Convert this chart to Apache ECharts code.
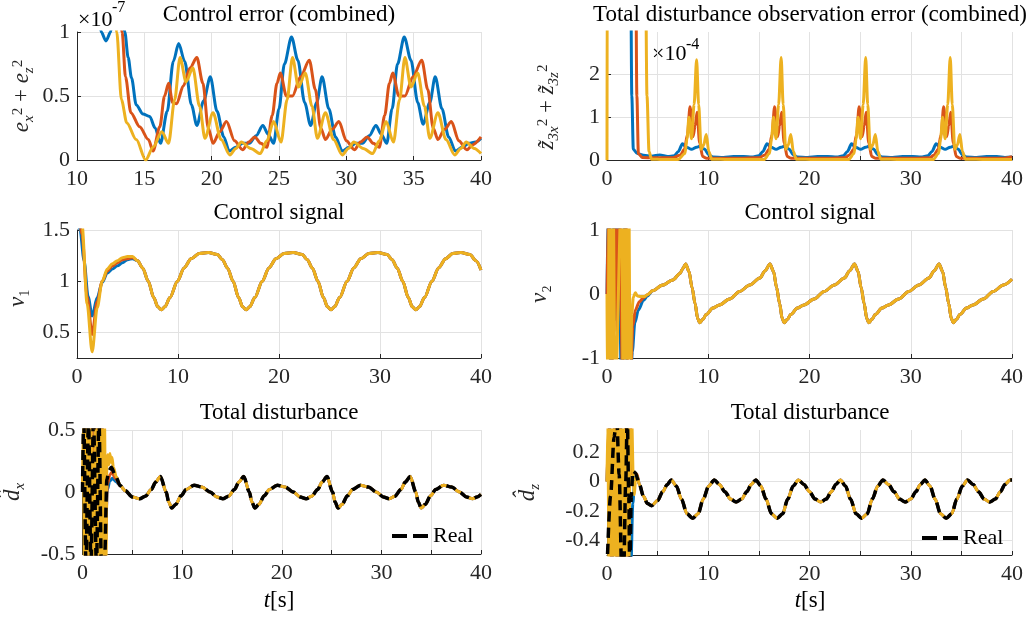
<!DOCTYPE html>
<html>
<head>
<meta charset="utf-8">
<title>Observer results</title>
<script src="https://cdn.jsdelivr.net/npm/echarts@6/dist/echarts.min.js"></script>
<style>
html, body { margin: 0; padding: 0; background: #fff; }
#chart { width: 1034px; height: 620px; }
</style>
</head>
<body>
<div id="chart"></div>
<script>
// tick values
var xTicksErr = [10, 15, 20, 25, 30, 35, 40];
var xTicks5 = [0, 5, 10, 15, 20, 25, 30, 35, 40];
var xTicks10 = [0, 10, 20, 30, 40];
var yTicksErr = [0, 0.5, 1];
var yTicksZ = [0, 1, 2];
var yTicksV1 = [0.5, 1, 1.5];
var yTicksV2 = [-1, 0, 1];
var yTicksDx = [-0.5, 0, 0.5];
var yTicksDz = [-0.4, -0.2, 0, 0.2];

// control error e_x^2 + e_z^2 (x 1e-7)
var errBlue = [[10,2.5],[11.4,1.4],[11.8,1.0],[12.15,0.93],[12.5,1.0],[12.9,1.5],[13.25,1.5],[13.55,1.0],[13.8,0.8],[14.05,0.64],[14.4,0.43],[14.9,0.36],[15.4,0.34],[15.8,0.25],[16.2,0.13],[16.7,0.38],[17.15,0.77],[17.55,0.91],[18.0,0.77],[18.5,0.43],[18.9,0.27],[19.4,0.46],[19.9,0.65],[20.4,0.38],[20.9,0.18],[21.3,0.07],[21.8,0.1],[22.3,0.13],[22.8,0.13],[23.3,0.19],[23.8,0.27],[24.2,0.2],[24.6,0.13],[25.0,0.4],[25.4,0.75],[25.93,0.96],[26.4,0.78],[26.9,0.45],[27.35,0.27],[27.8,0.45],[28.2,0.65],[28.7,0.4],[29.2,0.18],[29.7,0.07],[30.2,0.1],[30.7,0.13],[31.2,0.13],[31.7,0.19],[32.2,0.27],[32.6,0.2],[33.0,0.13],[33.4,0.4],[33.8,0.75],[34.3,0.96],[34.8,0.78],[35.3,0.45],[35.7,0.28],[36.2,0.45],[36.6,0.65],[37.1,0.4],[37.6,0.18],[38.1,0.07],[38.6,0.1],[39.1,0.13],[39.6,0.14],[40,0.17]];
var errOrange = [[10,2.5],[13.0,1.6],[13.35,1.0],[13.6,0.65],[14.0,0.37],[14.65,0.26],[15.3,0.16],[15.65,0.07],[16.15,0.26],[16.5,0.5],[16.8,0.6],[17.1,0.45],[17.4,0.44],[17.9,0.58],[18.4,0.72],[18.9,0.8],[19.35,0.6],[19.75,0.25],[20.1,0.13],[20.6,0.22],[21.1,0.3],[21.7,0.15],[22.3,0.08],[22.75,0.14],[23.2,0.18],[23.65,0.13],[24.1,0.1],[24.5,0.35],[24.85,0.6],[25.1,0.68],[25.55,0.5],[26.0,0.5],[26.6,0.65],[27.25,0.78],[27.7,0.55],[28.1,0.25],[28.45,0.16],[28.95,0.24],[29.45,0.3],[30.0,0.15],[30.6,0.08],[31.05,0.14],[31.55,0.18],[32.0,0.13],[32.45,0.1],[32.85,0.35],[33.2,0.6],[33.45,0.68],[33.9,0.5],[34.35,0.5],[34.95,0.65],[35.6,0.78],[36.05,0.55],[36.45,0.25],[36.8,0.16],[37.3,0.24],[37.8,0.3],[38.35,0.15],[38.95,0.08],[39.4,0.12],[40,0.18]];
var errYellow = [[10,2.5],[12.7,1.6],[12.95,1.0],[13.3,0.47],[13.7,0.29],[14.4,0.16],[15.1,0.0],[15.65,0.1],[16.3,0.22],[16.8,0.13],[17.25,0.47],[17.65,0.8],[18.1,0.61],[18.6,0.72],[19.1,0.42],[19.5,0.17],[20.1,0.37],[20.7,0.16],[21.35,0.04],[21.8,0.09],[22.2,0.14],[22.9,0.09],[23.6,0.05],[24.1,0.15],[24.6,0.3],[25.15,0.14],[25.6,0.47],[26.0,0.8],[26.45,0.57],[26.95,0.68],[27.45,0.42],[27.85,0.17],[28.45,0.37],[29.05,0.16],[29.7,0.04],[30.15,0.09],[30.55,0.14],[31.25,0.09],[31.95,0.05],[32.45,0.15],[32.95,0.3],[33.5,0.14],[33.95,0.47],[34.35,0.8],[34.8,0.57],[35.3,0.68],[35.8,0.42],[36.2,0.17],[36.8,0.37],[37.4,0.16],[38.05,0.04],[38.5,0.09],[38.9,0.14],[39.5,0.09],[40,0.05]];

// disturbance observation error (x 1e-4)
var obsBlue = [[0,6],[2.3,6],[2.45,1.5],[2.6,0.25],[3.0,0.15],[3.6,0.11],[4.4,0.09],[5.2,0.12],[6.0,0.08],[6.65,0.1],[7.05,0.2],[7.45,0.38],[7.85,0.3],[8.35,0.25],[8.85,0.3],[9.25,0.33],[9.65,0.25],[10.05,0.12],[10.45,0.07],[11.5,0.06],[12.5,0.08],[13.5,0.08],[14.3,0.07],[15.0,0.1],[15.4,0.2],[15.8,0.38],[16.2,0.3],[16.7,0.25],[17.2,0.3],[17.6,0.33],[18.0,0.25],[18.4,0.12],[18.8,0.07],[19.8,0.06],[20.8,0.08],[21.8,0.08],[22.7,0.07],[23.35,0.1],[23.75,0.2],[24.15,0.38],[24.55,0.3],[25.05,0.25],[25.55,0.3],[25.95,0.33],[26.35,0.25],[26.75,0.12],[27.15,0.07],[28.2,0.06],[29.2,0.08],[30.2,0.08],[31.0,0.07],[31.7,0.1],[32.1,0.2],[32.5,0.38],[32.9,0.3],[33.4,0.25],[33.9,0.3],[34.3,0.33],[34.7,0.25],[35.1,0.12],[35.5,0.07],[36.5,0.06],[37.5,0.08],[38.5,0.08],[39.3,0.06],[40,0.07]];
var obsOrange = [[0,6],[2.8,6],[2.95,1.5],[3.1,0.15],[3.5,0.06],[4.5,0.05],[5.5,0.05],[6.5,0.05],[7.25,0.12],[7.65,0.25],[7.95,0.6],[8.2,1.25],[8.5,0.55],[8.7,0.8],[8.9,1.12],[9.15,0.4],[9.45,0.08],[9.85,0.04],[11,0.04],[13,0.04],[15,0.05],[15.6,0.12],[16.0,0.25],[16.3,0.6],[16.55,1.25],[16.85,0.55],[17.05,0.8],[17.25,1.12],[17.5,0.4],[17.8,0.08],[18.2,0.04],[20,0.04],[22,0.04],[23.5,0.05],[23.95,0.12],[24.35,0.25],[24.65,0.6],[24.9,1.25],[25.2,0.55],[25.4,0.8],[25.6,1.12],[25.85,0.4],[26.15,0.08],[26.55,0.04],[28.5,0.04],[30.5,0.04],[31.9,0.05],[32.3,0.12],[32.7,0.25],[33.0,0.6],[33.25,1.25],[33.55,0.55],[33.75,0.8],[33.95,1.12],[34.2,0.4],[34.5,0.08],[34.9,0.04],[37,0.04],[39,0.04],[40,0.08]];
var obsYellow = [[0,0],[0.03,6],[3.75,6],[3.95,1.5],[4.15,0.2],[4.4,0.02],[5.5,0.01],[7.0,0.01],[7.7,0.15],[7.9,0.5],[8.1,1.0],[8.35,0.5],[8.6,1.3],[8.85,2.35],[9.05,1.3],[9.3,0.25],[9.55,0.35],[9.8,0.6],[10.05,0.2],[10.35,0.02],[12,0.01],[14,0.01],[15.5,0.01],[16.05,0.15],[16.25,0.5],[16.45,1.0],[16.7,0.5],[16.95,1.3],[17.2,2.4],[17.4,1.3],[17.65,0.25],[17.9,0.35],[18.15,0.6],[18.4,0.2],[18.7,0.02],[20.5,0.01],[22.5,0.01],[23.85,0.01],[24.4,0.15],[24.6,0.5],[24.8,1.0],[25.05,0.5],[25.3,1.3],[25.55,2.4],[25.75,1.3],[26.0,0.25],[26.25,0.35],[26.5,0.6],[26.75,0.2],[27.05,0.02],[29,0.01],[31,0.01],[32.2,0.01],[32.75,0.15],[32.95,0.5],[33.15,1.0],[33.4,0.5],[33.65,1.3],[33.9,2.4],[34.1,1.3],[34.35,0.25],[34.6,0.35],[34.85,0.6],[35.1,0.2],[35.4,0.02],[37.5,0.01],[40,0.01]];

// control signal v1
var v1BlueHead = [[0,1.62],[0.3,1.5],[0.7,1.2],[1.1,0.85],[1.5,0.66],[2.0,0.84],[2.5,0.99],[3.0,1.08],[3.5,1.12],[4.0,1.15],[4.5,1.18],[5.0,1.21],[5.5,1.22]];
var v1OrangeHead = [[0,1.8],[0.5,1.45],[1.0,0.85],[1.5,0.48],[2.0,0.8],[2.5,1.0],[3.0,1.1],[3.5,1.15],[4.0,1.18],[4.5,1.21],[5.0,1.22],[5.5,1.23]];
var v1YellowHead = [[0,1.9],[0.5,1.55],[1.0,0.78],[1.5,0.31],[2.0,0.74],[2.5,1.0],[3.0,1.12],[3.5,1.17],[4.0,1.2],[4.5,1.23],[5.0,1.24],[5.5,1.24]];
var v1Tail = [[6.0,1.2],[6.5,1.13],[7.05,1.0],[7.6,0.84],[8.0,0.75],[8.35,0.72],[8.7,0.75],[9.2,0.84],[9.95,1.0],[10.6,1.13],[11.3,1.22],[12.1,1.27],[13.0,1.28],[13.9,1.26],[14.4,1.21],[14.9,1.13],[15.45,1.0],[16.0,0.84],[16.4,0.75],[16.75,0.72],[17.1,0.75],[17.6,0.84],[18.35,1.0],[19.0,1.13],[19.7,1.22],[20.5,1.27],[21.4,1.28],[22.3,1.26],[22.8,1.21],[23.3,1.13],[23.85,1.0],[24.4,0.84],[24.8,0.75],[25.15,0.72],[25.5,0.75],[26.0,0.84],[26.75,1.0],[27.4,1.13],[28.1,1.22],[28.9,1.27],[29.8,1.28],[30.7,1.26],[31.2,1.21],[31.7,1.13],[32.25,1.0],[32.8,0.84],[33.2,0.75],[33.55,0.72],[33.9,0.75],[34.4,0.84],[35.15,1.0],[35.8,1.13],[36.5,1.22],[37.2,1.27],[38.0,1.28],[38.9,1.26],[39.5,1.2],[40,1.11]];

// control signal v2
var v2BlueHead = [[0,0],[0.15,1.6],[0.4,-1.6],[0.65,1.6],[0.9,-0.4],[1.1,1.6],[1.45,-1.6],[1.75,1.6],[2.0,-1.6],[2.3,-1.6],[2.5,-0.9],[2.75,-0.45],[3.1,-0.25],[3.6,-0.1],[4.0,-0.03]];
var v2OrangeHead = [[0,0],[0.2,1.6],[0.45,-1.6],[0.8,1.6],[1.0,-0.6],[1.25,1.6],[1.55,-1.6],[1.85,1.6],[2.1,-1.6],[2.35,-1.2],[2.55,-0.5],[2.8,-0.25],[3.2,-0.12],[3.6,-0.06],[4.0,-0.01]];
var v2YellowHead = [[0,0],[0.05,-1.6],[0.25,1.6],[0.45,-1.6],[0.6,1.6],[0.8,-1.6],[1.45,1.6],[1.6,-1.6],[1.8,1.6],[1.95,-1.6],[2.15,1.6],[2.3,-1.6],[2.45,-0.3],[2.6,-0.05],[2.8,0.02],[3.0,-0.03],[3.3,-0.04],[3.7,-0.04],[4.0,-0.01]];
var v2Tail = [[4.5,0.05],[5.5,0.14],[6.5,0.22],[7.2,0.32],[7.5,0.4],[7.77,0.47],[8.1,0.35],[8.4,0.1],[8.7,-0.15],[8.95,-0.38],[9.15,-0.45],[9.45,-0.4],[9.8,-0.32],[10.45,-0.22],[11.1,-0.17],[12.1,-0.08],[13.1,0.04],[14.1,0.14],[15.1,0.25],[15.6,0.36],[16.1,0.47],[16.45,0.35],[16.75,0.1],[17.05,-0.15],[17.3,-0.38],[17.5,-0.45],[17.8,-0.4],[18.15,-0.32],[18.8,-0.22],[19.45,-0.17],[20.45,-0.08],[21.45,0.04],[22.45,0.14],[23.45,0.25],[23.95,0.36],[24.45,0.47],[24.8,0.35],[25.1,0.1],[25.4,-0.15],[25.65,-0.38],[25.85,-0.45],[26.15,-0.4],[26.5,-0.32],[27.15,-0.22],[27.8,-0.17],[28.8,-0.08],[29.8,0.04],[30.8,0.14],[31.8,0.25],[32.3,0.36],[32.8,0.47],[33.15,0.35],[33.45,0.1],[33.75,-0.15],[34.0,-0.38],[34.2,-0.45],[34.5,-0.4],[34.85,-0.32],[35.5,-0.22],[36.15,-0.17],[37.15,-0.08],[38.15,0.04],[39.15,0.14],[40,0.23]];

// total disturbance d_x
var dxBlueHead = [[0,0],[0.3,0.6],[0.55,-0.6],[0.85,0.6],[0.9,-0.6],[1.3,0.6],[1.6,-0.6],[1.9,0.6],[2.2,-0.6],[2.5,0.02],[2.75,0.09],[3.0,0.11],[3.4,0.08]];
var dxOrangeHead = [[0,0],[0.25,0.6],[0.5,-0.6],[0.95,0.6],[1.0,-0.6],[1.35,0.6],[1.65,-0.6],[1.95,0.6],[2.25,-0.6],[2.5,0.06],[2.75,0.14],[2.95,0.16],[3.3,0.11]];
var dxYellowHead = [[0,0],[0.08,0.6],[0.2,-0.6],[0.32,0.6],[0.45,-0.6],[0.58,0.6],[0.7,-0.6],[0.82,0.6],[1.15,-0.6],[1.3,0.6],[1.45,-0.6],[1.6,0.6],[1.75,-0.6],[1.9,0.6],[2.05,-0.6],[2.2,0.6],[2.35,-0.6],[2.45,0.25],[2.55,0.3],[2.65,0.22],[2.75,0.31],[2.85,0.24],[2.95,0.28],[3.1,0.2],[3.4,0.12]];
var dxRealHead = [[0,0],[0.12,0.6],[0.35,-0.6],[0.6,0.6],[0.85,-0.6],[1.1,0.6],[1.4,-0.6],[1.65,0.6],[1.9,-0.6],[2.2,-0.6],[2.45,0.1],[2.65,0.17],[2.9,0.2],[3.3,0.13]];
var dxTail = [[3.8,0.05],[4.3,0.01],[5.0,-0.04],[5.75,-0.055],[6.3,-0.035],[6.9,0.02],[7.35,0.08],[7.82,0.125],[8.4,0.0],[8.65,-0.08],[8.95,-0.13],[9.35,-0.1],[9.9,-0.03],[10.4,0.02],[11.2,0.055],[12.0,0.04],[12.8,0.0],[13.5,-0.04],[14.1,-0.055],[14.65,-0.035],[15.25,0.02],[15.7,0.08],[16.18,0.125],[16.75,0.0],[17.0,-0.08],[17.3,-0.13],[17.7,-0.1],[18.25,-0.03],[18.75,0.02],[19.55,0.055],[20.35,0.04],[21.15,0.0],[21.85,-0.04],[22.45,-0.055],[23.0,-0.035],[23.6,0.02],[24.05,0.08],[24.54,0.125],[25.1,0.0],[25.35,-0.08],[25.65,-0.13],[26.05,-0.1],[26.6,-0.03],[27.1,0.02],[27.9,0.055],[28.7,0.04],[29.5,0.0],[30.2,-0.04],[30.8,-0.055],[31.35,-0.035],[31.95,0.02],[32.4,0.08],[32.9,0.125],[33.45,0.0],[33.7,-0.08],[34.0,-0.13],[34.4,-0.1],[34.95,-0.03],[35.45,0.02],[36.25,0.055],[37.05,0.04],[37.85,0.0],[38.55,-0.04],[39.15,-0.055],[39.6,-0.04],[40,-0.02]];

// total disturbance d_z
var dzBlueHead = [[0,0],[0.25,0.4],[0.5,-0.6],[0.8,0.4],[1.05,-0.6],[1.35,0.4],[1.6,-0.6],[1.9,0.4],[2.15,-0.6],[2.35,-0.6],[2.55,-0.15],[2.75,0.03],[3.0,0.03],[3.2,-0.02]];
var dzOrangeHead = [[0,0],[0.2,0.4],[0.45,-0.6],[0.75,0.4],[1.0,-0.6],[1.3,0.4],[1.55,-0.6],[1.85,0.4],[2.05,-0.6],[2.3,0.4],[2.5,0.05],[2.7,0.06],[2.95,0.05],[3.2,-0.02]];
var dzYellowHead = [[0,0],[0.08,0.4],[0.2,-0.6],[0.32,0.4],[0.45,-0.6],[0.58,0.4],[0.7,-0.6],[0.82,0.4],[0.95,-0.6],[1.1,0.4],[1.25,-0.6],[1.4,0.4],[1.55,-0.6],[1.7,0.4],[1.85,-0.6],[2.0,0.4],[2.15,-0.6],[2.3,0.4],[2.45,0.4],[2.6,0.0],[2.7,-0.09],[2.8,0.0],[2.95,0.04],[3.2,-0.02]];
var dzRealHead = [[0,-0.6],[0.35,-0.1],[0.7,0.3],[0.95,0.45],[1.2,0.05],[1.45,-0.6],[1.65,-0.6],[1.85,0.0],[2.0,0.45],[2.15,-0.1],[2.25,-0.6],[2.4,-0.1],[2.55,0.07],[2.8,0.06],[3.2,-0.02]];
var dzTail = [[3.6,-0.1],[4.0,-0.15],[4.4,-0.165],[5.0,-0.13],[5.5,-0.07],[5.95,-0.02],[6.35,0.01],[6.85,-0.03],[7.35,-0.12],[7.9,-0.22],[8.45,-0.25],[9.0,-0.22],[9.5,-0.12],[10.05,-0.03],[10.6,0.01],[11.1,-0.02],[11.65,-0.07],[12.2,-0.12],[12.75,-0.14],[13.3,-0.12],[13.8,-0.07],[14.25,-0.02],[14.7,0.01],[15.2,-0.03],[15.7,-0.12],[16.25,-0.22],[16.8,-0.25],[17.35,-0.22],[17.85,-0.12],[18.4,-0.03],[18.9,0.01],[19.45,-0.02],[20.0,-0.07],[20.55,-0.12],[21.1,-0.14],[21.65,-0.12],[22.15,-0.07],[22.6,-0.02],[23.05,0.01],[23.55,-0.03],[24.05,-0.12],[24.6,-0.22],[25.15,-0.25],[25.7,-0.22],[26.2,-0.12],[26.75,-0.03],[27.25,0.01],[27.8,-0.02],[28.35,-0.07],[28.9,-0.12],[29.45,-0.14],[30.0,-0.12],[30.5,-0.07],[30.95,-0.02],[31.4,0.01],[31.9,-0.03],[32.4,-0.12],[32.95,-0.22],[33.5,-0.25],[34.05,-0.22],[34.55,-0.12],[35.1,-0.03],[35.6,0.01],[36.15,-0.02],[36.7,-0.07],[37.25,-0.12],[37.8,-0.14],[38.35,-0.12],[38.85,-0.07],[39.3,-0.02],[39.8,0.01],[40,0.01]];

var BLUE = '#0072BD', ORANGE = '#D95319', YELLOW = '#EDB120';
var FONT = '"Liberation Serif", "DejaVu Serif", serif';
var AX = '#262626', GRIDC = '#e2e2e2';
var DASH_ICON = 'path://M0 0H15V4H0Z M21 0H36V4H21Z';

var RICH = {
  i: {fontFamily: FONT, fontStyle: 'italic', fontSize: 23, color: AX, lineHeight: 30},
  n: {fontFamily: FONT, fontSize: 23, color: AX, lineHeight: 30},
  p: {fontFamily: FONT, fontSize: 15, color: AX, verticalAlign: 'top', lineHeight: 30, padding: [4, 0, 0, 0]},
  b: {fontFamily: FONT, fontStyle: 'italic', fontSize: 15, color: AX, verticalAlign: 'bottom', lineHeight: 30}
};

function makeX(i, min, ticks, labels) {
  return {
    type: 'value', gridIndex: i, min: min, max: 40,
    axisLine: {onZero: false, lineStyle: {color: AX, width: 1}},
    axisTick: {inside: true, length: 4, customValues: ticks, lineStyle: {color: AX}},
    axisLabel: {customValues: labels, color: AX, fontFamily: FONT, fontSize: 22, margin: 8},
    splitLine: {show: true, lineStyle: {color: GRIDC, width: 1}}
  };
}
function makeY(i, min, max, ticks, name, gap, shift) {
  return {
    type: 'value', gridIndex: i, min: min, max: max,
    axisLine: {show: true, onZero: false, lineStyle: {color: AX, width: 1}},
    axisTick: {show: true, inside: true, length: 4, customValues: ticks, lineStyle: {color: AX}},
    axisLabel: {customValues: ticks, color: AX, fontFamily: FONT, fontSize: 22, margin: 7},
    splitLine: {show: true, lineStyle: {color: GRIDC, width: 1}},
    name: name, nameLocation: 'middle', nameGap: gap, nameRotate: 90,
    nameTextStyle: {rich: RICH, fontFamily: FONT, fontSize: 23, color: AX, padding: [0, shift || 0, 0, 0]}
  };
}
function line(name, data, color, g, width, type) {
  return {
    type: 'line', name: name, data: data, xAxisIndex: g, yAxisIndex: g,
    symbol: 'none', smooth: 0.3, smoothMonotone: 'x', silent: true, clip: true,
    lineStyle: {color: color, width: width || 3, type: type || 'solid'},
    itemStyle: {color: color}
  };
}
function txt(text, x, y, size, extra) {
  return {
    type: 'text', x: x, y: y,
    style: Object.assign({
      text: text, font: size + 'px "Liberation Serif"', fill: '#000',
      textAlign: 'center', textVerticalAlign: 'middle', align: 'center', verticalAlign: 'middle'
    }, extra || {})
  };
}
function realLegend(left, top) {
  return {
    data: [{name: 'Real', icon: DASH_ICON}], left: left, top: top, padding: 0,
    itemWidth: 36, itemHeight: 4, itemGap: 0, selectedMode: false,
    itemStyle: {color: '#000', borderWidth: 0},
    textStyle: {fontFamily: FONT, fontSize: 22, color: '#000', padding: [0, 0, 0, 0]}
  };
}

var chart = echarts.init(document.getElementById('chart'));
chart.setOption({
  animation: false,
  backgroundColor: '#fff',
  grid: [
    {left: 77, top: 32, width: 404, height: 128},
    {left: 607, top: 32, width: 405, height: 128},
    {left: 77, top: 230, width: 404, height: 128},
    {left: 607, top: 230, width: 405, height: 128},
    {left: 77, top: 430, width: 404, height: 124},
    {left: 607, top: 430, width: 405, height: 125}
  ],
  xAxis: [
    makeX(0, 10, xTicksErr, xTicksErr),
    makeX(1, 0, xTicks5, xTicks10),
    makeX(2, 0, xTicks10, xTicks10),
    makeX(3, 0, xTicks10, xTicks10),
    makeX(4, 0, xTicks5, xTicks10),
    makeX(5, 0, xTicks5, xTicks10)
  ],
  yAxis: [
    makeY(0, 0, 1, yTicksErr, '{i|e}{b|x}{p|2}{n| + }{i|e}{b|z}{p|2}', 40),
    makeY(1, 0, 3, yTicksZ, '{i|z̃}{b|3x}{p|2}{n| + }{i|z̃}{b|3z}{p|2}', 45, 22),
    makeY(2, 0.25, 1.5, yTicksV1, '{i|v}{n|₁}', 44, 8),
    makeY(3, -1, 1, yTicksV2, '{i|v}{n|₂}', 52),
    makeY(4, -0.5, 0.5, yTicksDx, '{i|d̂}{b|x}', 55),
    makeY(5, -0.5, 0.35, yTicksDz, '{i|d̂}{b|z}', 64)
  ],
  legend: [realLegend(392, 525), realLegend(922, 527)],
  graphic: [
    txt('Control error (combined)', 279, 15, 23),
    txt('Total disturbance observation error (combined)', 810, 15, 23),
    txt('Control signal', 279, 213, 23),
    txt('Control signal', 810, 213, 23),
    txt('Total disturbance', 279, 413, 23),
    txt('Total disturbance', 810, 413, 23),
    txt('×10', 78, 20, 22, {textAlign: 'left', align: 'left'}),
    txt('-7', 112, 8, 16, {textAlign: 'left', align: 'left'}),
    txt('×10', 652, 54, 22, {textAlign: 'left', align: 'left'}),
    txt('-4', 686, 45, 16, {textAlign: 'left', align: 'left'}),
    txt('{i|t}[s]', 279, 601, 23, {rich: {i: {fontStyle: 'italic', fontFamily: 'Liberation Serif', fontSize: 23, fill: '#000'}}}),
    txt('{i|t}[s]', 810, 601, 23, {rich: {i: {fontStyle: 'italic', fontFamily: 'Liberation Serif', fontSize: 23, fill: '#000'}}})
  ],
  series: [
    line('b0', errBlue, BLUE, 0), line('o0', errOrange, ORANGE, 0), line('y0', errYellow, YELLOW, 0),
    line('b1', obsBlue, BLUE, 1), line('o1', obsOrange, ORANGE, 1), line('y1', obsYellow, YELLOW, 1),
    line('b2', v1BlueHead.concat(v1Tail), BLUE, 2), line('o2', v1OrangeHead.concat(v1Tail), ORANGE, 2), line('y2', v1YellowHead.concat(v1Tail), YELLOW, 2),
    line('b3', v2BlueHead.concat(v2Tail), BLUE, 3), line('o3', v2OrangeHead.concat(v2Tail), ORANGE, 3), line('y3', v2YellowHead.concat(v2Tail), YELLOW, 3),
    line('b4', dxBlueHead.concat(dxTail), BLUE, 4), line('o4', dxOrangeHead.concat(dxTail), ORANGE, 4), line('y4', dxYellowHead.concat(dxTail), YELLOW, 4),
    line('Real', dxRealHead.concat(dxTail), '#000', 4, 3.5, [10, 6]),
    line('b5', dzBlueHead.concat(dzTail), BLUE, 5), line('o5', dzOrangeHead.concat(dzTail), ORANGE, 5), line('y5', dzYellowHead.concat(dzTail), YELLOW, 5),
    line('Real', dzRealHead.concat(dzTail), '#000', 5, 3.5, [10, 6])
  ]
});
</script>
</body>
</html>
